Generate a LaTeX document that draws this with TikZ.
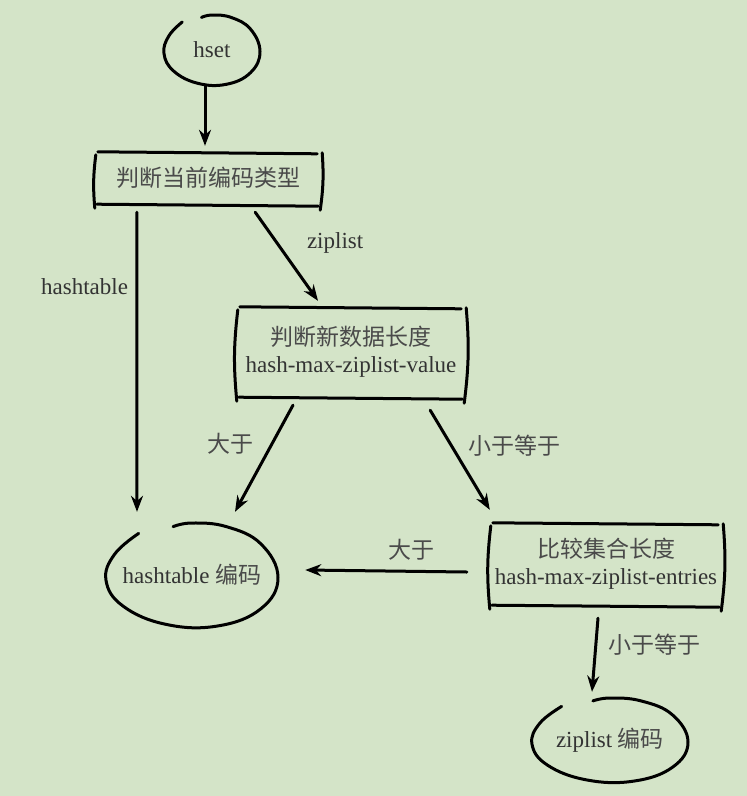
\documentclass[tikz,border=0pt]{standalone}
\usepackage{fontspec}
\setmainfont{Liberation Serif}
\newfontfamily\cjk{Noto Sans CJK SC}
\usetikzlibrary{positioning, arrows.meta, shapes}

\definecolor{bggreen}{HTML}{D4E4C8}
\definecolor{inkgray}{HTML}{333333}
\definecolor{zhgray}{HTML}{4A4A4A}

\newcommand{\zh}[1]{{\cjk\color{zhgray}#1}}

% hand drawn frame: two long strokes and two brackets
\newcommand{\roughbox}[1]{%
  \draw[sketch] ([xshift=3pt]#1.north west) -- ([xshift=-4pt,yshift=-2pt]#1.north east);
  \draw[sketch] ([xshift=2pt]#1.south west) -- ([xshift=-3pt,yshift=-2pt]#1.south east);
  \draw[sketch] ([xshift=1pt,yshift=-3pt]#1.north west) to[bend right=6] ([yshift=-4pt]#1.south west);
  \draw[sketch] ([xshift=1pt,yshift=-1pt]#1.north east) to[bend left=6] ([xshift=-1pt,yshift=-6pt]#1.south east);
}

% hand drawn open loop round a node
\newcommand{\roughloop}[3]{%
  \begin{scope}[shift={(#1.center)}, x=#2pt, y=-#3pt]
    \draw[sketch] plot[smooth, tension=0.7] coordinates {(-0.62,-0.8) (-0.9,-0.4) (-1,0.1) (-0.8,0.6) (-0.3,0.95) (0.3,0.98) (0.8,0.65) (1,0.05) (0.8,-0.6) (0.4,-0.93) (0,-1) (-0.22,-0.93)};
  \end{scope}}

\begin{document}
\begin{tikzpicture}[
            x=1pt, y=-1pt,
            block/.style={rectangle, inner sep=0pt, align=center, text=inkgray},
            blob/.style={ellipse, inner sep=0pt, text=inkgray},
            sketch/.style={line width=3pt, line cap=round, black},
            arrow/.style={sketch, -{Stealth[length=16pt, width=12pt]}},
            every node/.style={font=\fontsize{23}{27}\selectfont, text=inkgray}
        ]
        \fill[bggreen] (0,0) rectangle (747,796);

        % Nodes
        \node[blob, minimum width=96pt, minimum height=70pt] (hset) at (212,50) {hset};
        \node[block, minimum width=226pt, minimum height=52pt] (type) at (208,178) {\zh{判断当前编码类型}};
        \node[block, minimum width=228pt, minimum height=90pt] (value) at (351,352) {\zh{判断新数据长度}\\hash-max-ziplist-value};
        \node[block, minimum width=232pt, minimum height=82pt] (entries) at (606,564) {\zh{比较集合长度}\\hash-max-ziplist-entries};
        \node[blob, minimum width=172pt, minimum height=104pt] (hashenc) at (192,575) {hashtable \zh{编码}};
        \node[blob, minimum width=156pt, minimum height=84pt] (zipenc) at (610,740) {ziplist \zh{编码}};

        % Outlines
        \roughloop{hset}{48}{35}
        \roughloop{hashenc}{86}{52}
        \roughloop{zipenc}{78}{42}
        \roughbox{type}
        \roughbox{value}
        \roughbox{entries}

        % Arrows
        \draw[arrow] ([xshift=-7pt]hset.south) -- ([xshift=-3pt,yshift=6pt]type.north);
        \draw[arrow] ([xshift=42pt,yshift=-8pt]type.south west) -- node[pos=0.25, left=4pt] (lhash) {hashtable} ([xshift=-55pt,yshift=11pt]hashenc.north);
        \draw[arrow] ([xshift=-66pt,yshift=-8pt]type.south east) -- node[pos=0.35, right=25pt] (lzip) {ziplist} ([xshift=-33pt,yshift=6pt]value.north);

        \draw[arrow] ([xshift=-58pt,yshift=-8pt]value.south) -- node[pos=0.36, left=14pt] (lbig1) {\zh{大于}} ([xshift=43pt,yshift=11pt]hashenc.north);
        \draw[arrow] ([xshift=-35pt,yshift=-13pt]value.south east) -- node[pos=0.36, right=12pt] (lsmall1) {\zh{小于等于}} ([yshift=13pt]entries.north west);

        \draw[arrow] ([xshift=-23pt,yshift=-8pt]entries.west) -- node[pos=0.34, above=6pt] (lbig2) {\zh{大于}} ([xshift=15pt,yshift=5pt]hashenc.east);
        \draw[arrow] ([xshift=-8pt,yshift=-13pt]entries.south) -- node[pos=0.36, right=8pt] (lsmall2) {\zh{小于等于}} ([xshift=-18pt,yshift=6pt]zipenc.north);

    \end{tikzpicture}
\end{document}
